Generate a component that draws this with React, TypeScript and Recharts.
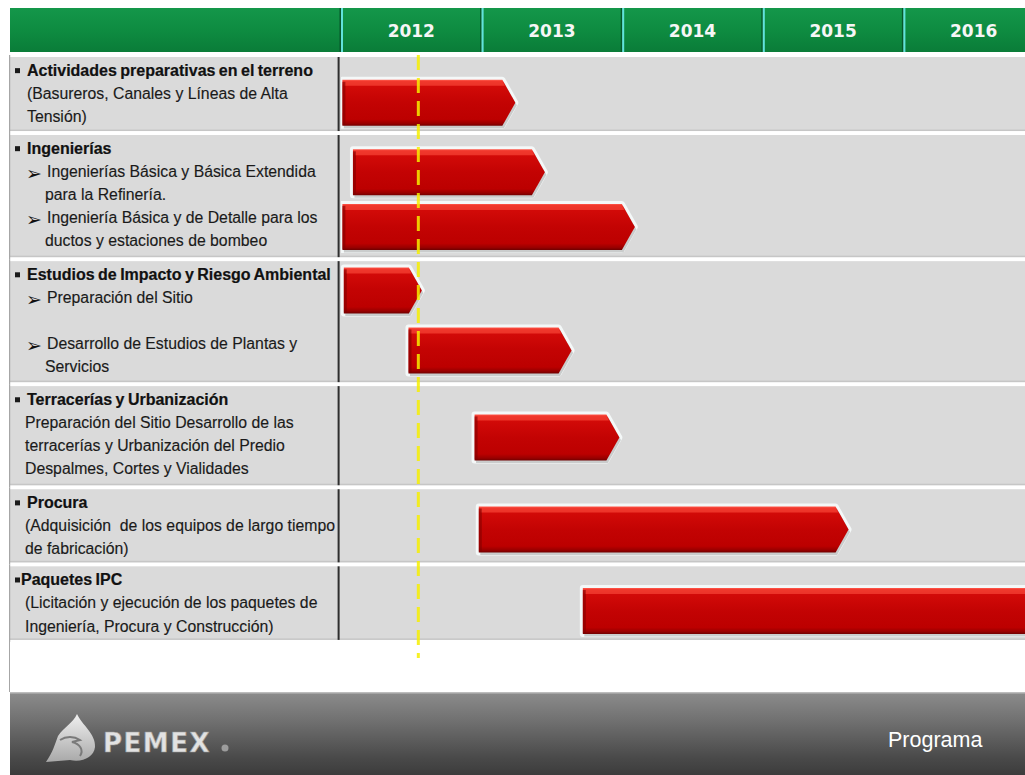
import React from "react";
import {
  ComposedChart,
  Bar,
  XAxis,
  YAxis,
  ReferenceArea,
  ReferenceLine,
} from "recharts";

// header years
const yearLabels = ["2012", "2013", "2014", "2015", "2016"];
const yearStarts = [2012, 2013, 2014, 2015, 2016];

// left panel groups
const groupTitles = [
  "Actividades preparativas en el terreno",
  "Ingenierías",
  "Estudios de Impacto y Riesgo Ambiental",
  "Terracerías y Urbanización",
  "Procura",
  "Paquetes IPC",
];
// "> " = arrow item, "  " = indented continuation, "" = empty line
const groupLines = [
  ["(Basureros, Canales y Líneas de Alta", "Tensión)"],
  [
    "> Ingenierías Básica y Básica Extendida",
    "  para la Refinería.",
    "> Ingeniería Básica y de Detalle para los",
    "  ductos y estaciones de bombeo",
  ],
  ["> Preparación del Sitio", "", "> Desarrollo de Estudios de Plantas y", "  Servicios"],
  [
    "Preparación del Sitio Desarrollo de las",
    "terracerías y Urbanización del Predio",
    "Despalmes, Cortes y Vialidades",
  ],
  ["(Adquisición  de los equipos de largo tiempo", "de fabricación)"],
  ["(Licitación y ejecución de los paquetes de", "Ingeniería, Procura y Construcción)"],
];
// band edges in text-line units from top of the table
const groupTop = [0, 3.39, 8.87, 14.3, 18.78, 22.13];
const groupBottom = [3.39, 8.87, 14.3, 18.78, 22.13, 25.5];

// tasks (bars)
const taskNames = [
  "Actividades preparativas",
  "Ingenierías Básica y Básica Extendida",
  "Ingeniería Básica y de Detalle",
  "Preparación del Sitio",
  "Desarrollo de Estudios de Plantas y Servicios",
  "Terracerías y Urbanización",
  "Procura",
  "Paquetes IPC",
];
const taskRow = [2.09, 5.11, 7.48, 10.24, 12.85, 16.63, 20.63, 24.17];
const taskStart = [2012.01, 2012.085, 2012.01, 2012.02, 2012.48, 2012.95, 2012.98, 2013.72];
const taskEnd = [2013.24, 2013.45, 2014.09, 2012.575, 2013.64, 2013.98, 2015.61, 2017];

const today = 2012.55;

const X_MIN = 2012;
const X_MAX = 2017;
const Y_MAX = 26.2;

const CHART_W = 1044;
const CHART_H = 658;
const M_LEFT = 10;
const M_TOP = 8;
const Y_W = 331;
const X_H = 47;
const PLOT_W = CHART_W - M_LEFT - Y_W;
const PLOT_H = CHART_H - M_TOP - X_H;
const UNIT = PLOT_H / Y_MAX;
const PX_YEAR = PLOT_W / (X_MAX - X_MIN);

const TEXT_FONT = '"Liberation Sans", Arial, sans-serif';

const tasks = taskNames.map((name, i) => ({
  name,
  row: taskRow[i],
  span: [taskStart[i], taskEnd[i]],
}));

const groupMid = groupTop.map((t, i) => (t + groupBottom[i]) / 2);

function HeaderCell(props: any) {
  const { x, payload } = props;
  const i = yearStarts.indexOf(Math.floor(payload.value));
  if (i < 0) return null;
  const left = x - PX_YEAR / 2;
  return (
    <g>
      <rect x={left} y={8} width={PX_YEAR} height={44} fill="url(#hdrGreen)" />
      <rect x={left - 1.5} y={8} width={1.5} height={44} fill="#07572a" />
      <rect x={left} y={8} width={2} height={44} fill="#62e2dc" />
      <text
        x={x}
        y={31}
        textAnchor="middle"
        dominantBaseline="central"
        fill="#f6f6f6"
        fontFamily='"DejaVu Sans", Verdana, sans-serif'
        fontWeight="bold"
        fontSize={17}
      >
        {yearLabels[i]}
      </text>
    </g>
  );
}

function GroupCell(props: any) {
  const { y, payload } = props;
  const i = groupMid.indexOf(payload.value);
  if (i < 0) return null;
  const top = y - (groupMid[i] - groupTop[i]) * UNIT;
  const h = (groupBottom[i] - groupTop[i]) * UNIT;
  const lineY = (k: number) => top + (0.68 + k) * UNIT;
  return (
    <g>
      <rect x={M_LEFT} y={top + 2} width={Y_W} height={h - 4} fill="#dadada" />
      <rect x={M_LEFT} y={top + h - 3.5} width={Y_W} height={1.5} fill="#c6c6c6" />
      <rect x={M_LEFT - 1} y={top} width={1.2} height={h} fill="#a6a6a6" />
      <rect x={337.6} y={top + 2} width={2} height={h - 4} fill="#2e2e2e" />
      <rect x={15} y={lineY(0) - 2.5} width={5} height={5} fill="#1a1a1a" />
      <text
        x={i === 5 ? 21 : 27}
        y={lineY(0)}
        dominantBaseline="central"
        fontFamily={TEXT_FONT}
        fontWeight="bold"
        fontSize={16}
        wordSpacing={-1}
        fill="#111111"
        stroke="#111111"
        strokeWidth={0.2}
      >
        {groupTitles[i]}
      </text>
      {groupLines[i].map((t, k) => {
        if (!t) return null;
        const ly = lineY(k + 1);
        if (t.startsWith("> ")) {
          return (
            <g key={k}>
              <text
                x={26}
                y={ly + 1}
                dominantBaseline="central"
                fontFamily='"DejaVu Sans", sans-serif'
                fontWeight="bold"
                fontSize={19}
                fill="#111111"
              >
                ➢
              </text>
              <text
                x={47}
                y={ly}
                dominantBaseline="central"
                fontFamily={TEXT_FONT}
                fontSize={15.8}
                fill="#1a1a1a"
                stroke="#1a1a1a"
                strokeWidth={0.15}
              >
                {t.slice(2)}
              </text>
            </g>
          );
        }
        const indent = t.startsWith("  ");
        return (
          <text
            key={k}
            x={indent ? 45 : i === 0 ? 27 : 25}
            y={ly}
            dominantBaseline="central"
            fontFamily={TEXT_FONT}
            fontSize={15.8}
            fill="#1a1a1a"
            stroke="#1a1a1a"
            strokeWidth={0.15}
            style={{ whiteSpace: "pre" }}
          >
            {indent ? t.slice(2) : t}
          </text>
        );
      })}
    </g>
  );
}

function RowBand(props: any) {
  const { x, y, width, height } = props;
  return (
    <g>
      <rect x={x} y={y + 2} width={width} height={height - 4} fill="#dadada" />
      <rect x={x} y={y + height - 3.5} width={width} height={1.5} fill="#c6c6c6" />
    </g>
  );
}

function ArrowBar(props: any) {
  const { x, y, width, height } = props;
  if (!width || width <= 0) return null;
  const tip = Math.min(13, width / 2);
  const r = x + width;
  const pts = `${x},${y} ${r - tip},${y} ${r},${y + height / 2} ${r - tip},${y + height} ${x},${y + height}`;
  const hl = `${x + 2},${y + 1.5} ${r - tip},${y + 1.5} ${r - tip + 2.5},${y + 6} ${x + 2},${y + 6}`;
  return (
    <g>
      <polygon points={pts} fill="none" stroke="#f4f8f8" strokeWidth={6} strokeLinejoin="round" />
      <polygon points={pts} transform="translate(1.5,2.5)" fill="#7a7a7a" opacity={0.35} />
      <polygon points={pts} fill="url(#barBody)" />
      <polygon points={hl} fill="#f03a2e" opacity={0.85} />
      <rect x={x} y={y + 2} width={3} height={height - 3} fill="#7d0000" opacity={0.55} />
    </g>
  );
}

function Footer() {
  return (
    <svg
      width={1015}
      height={83}
      style={{ position: "absolute", left: 10, top: 692 }}
    >
      <defs>
        <linearGradient id="ftrBg" x1="0" y1="0" x2="0" y2="1">
          <stop offset="0" stopColor="#8c8c8c" />
          <stop offset="0.35" stopColor="#707070" />
          <stop offset="0.8" stopColor="#494949" />
          <stop offset="1" stopColor="#3c3c3c" />
        </linearGradient>
        <linearGradient id="logoFill" x1="0" y1="0" x2="0" y2="1">
          <stop offset="0" stopColor="#f0f0f0" />
          <stop offset="1" stopColor="#a8a8a8" />
        </linearGradient>
      </defs>
      <rect width={1015} height={83} fill="url(#ftrBg)" />
      <rect width={1015} height={1.5} fill="#bdbdbd" />
      <path
        d="M67 22 C 72 33 86 42 85 55 C 84 65 72 71 60 68 L 36 70 C 43 60 45 52 48 44 C 54 35 63 31 67 22 Z"
        fill="url(#logoFill)"
      />
      <path
        d="M50 48 C 56 44 64 44 70 48 L 62 50 C 70 52 74 58 70 64"
        fill="none"
        stroke="#7a7a7a"
        strokeWidth={2}
      />
      <text
        x={93}
        y={60}
        fontFamily='"DejaVu Sans", sans-serif'
        fontWeight="bold"
        fontSize={26}
        letterSpacing={1.5}
        fill="#e2e2e2"
        stroke="#9a9a9a"
        strokeWidth={0.6}
      >
        PEMEX
      </text>
      <circle cx={215} cy={56} r={3.5} fill="#9c9c9c" />
      <text
        x={878}
        y={55}
        fontFamily={TEXT_FONT}
        fontSize={21.5}
        fill="#ffffff"
      >
        Programa
      </text>
    </svg>
  );
}

export default function App() {
  return (
    <div
      style={{
        position: "fixed",
        left: 0,
        top: 0,
        width: 1025,
        height: 775,
        overflow: "hidden",
        background: "#ffffff",
      }}
    >
      <svg width={0} height={0} style={{ position: "absolute" }}>
        <defs>
          <linearGradient id="hdrGreen" x1="0" y1="0" x2="0" y2="1">
            <stop offset="0" stopColor="#14974a" />
            <stop offset="0.5" stopColor="#0e8c41" />
            <stop offset="1" stopColor="#0a7c38" />
          </linearGradient>
          <linearGradient id="barBody" x1="0" y1="0" x2="0" y2="1">
            <stop offset="0" stopColor="#ff5a4c" />
            <stop offset="0.05" stopColor="#ec2a22" />
            <stop offset="0.14" stopColor="#d20a08" />
            <stop offset="0.5" stopColor="#c30303" />
            <stop offset="0.86" stopColor="#bc0000" />
            <stop offset="0.95" stopColor="#980000" />
            <stop offset="1" stopColor="#700000" />
          </linearGradient>
        </defs>
      </svg>
      <div
        style={{
          position: "absolute",
          left: 10,
          top: 8,
          width: 331,
          height: 44,
          background: "linear-gradient(#14974a, #0e8c41 50%, #0a7c38)",
        }}
      />
      <div
        style={{
          position: "absolute",
          left: 9,
          top: 640,
          width: 1.2,
          height: 52,
          background: "#a6a6a6",
        }}
      />
      <Footer />
      <div style={{ position: "absolute", left: 0, top: 0 }}>
        <ComposedChart
          width={CHART_W}
          height={CHART_H}
          layout="vertical"
          data={tasks}
          margin={{ top: M_TOP, right: 0, bottom: 0, left: M_LEFT }}
        >
          <XAxis
            type="number"
            orientation="top"
            domain={[X_MIN, X_MAX]}
            allowDataOverflow
            ticks={yearStarts.map((v) => v + 0.5)}
            interval={0}
            height={X_H}
            axisLine={false}
            tickLine={false}
            tick={<HeaderCell />}
          />
          <YAxis
            type="number"
            dataKey="row"
            domain={[0, Y_MAX]}
            allowDataOverflow
            ticks={groupMid}
            interval={0}
            width={Y_W}
            axisLine={false}
            tickLine={false}
            tick={<GroupCell />}
          />
          {groupTop.map((t, i) => (
            <ReferenceArea
              key={i}
              y1={t}
              y2={groupBottom[i]}
              shape={<RowBand />}
            />
          ))}
          <Bar
            dataKey="span"
            barSize={46}
            shape={<ArrowBar />}
            isAnimationActive={false}
          />
          <ReferenceLine
            x={today}
            stroke="#f6ee00"
            strokeWidth={3}
            strokeOpacity={0.85}
            strokeDasharray="15 8"
          />
        </ComposedChart>
      </div>
    </div>
  );
}
